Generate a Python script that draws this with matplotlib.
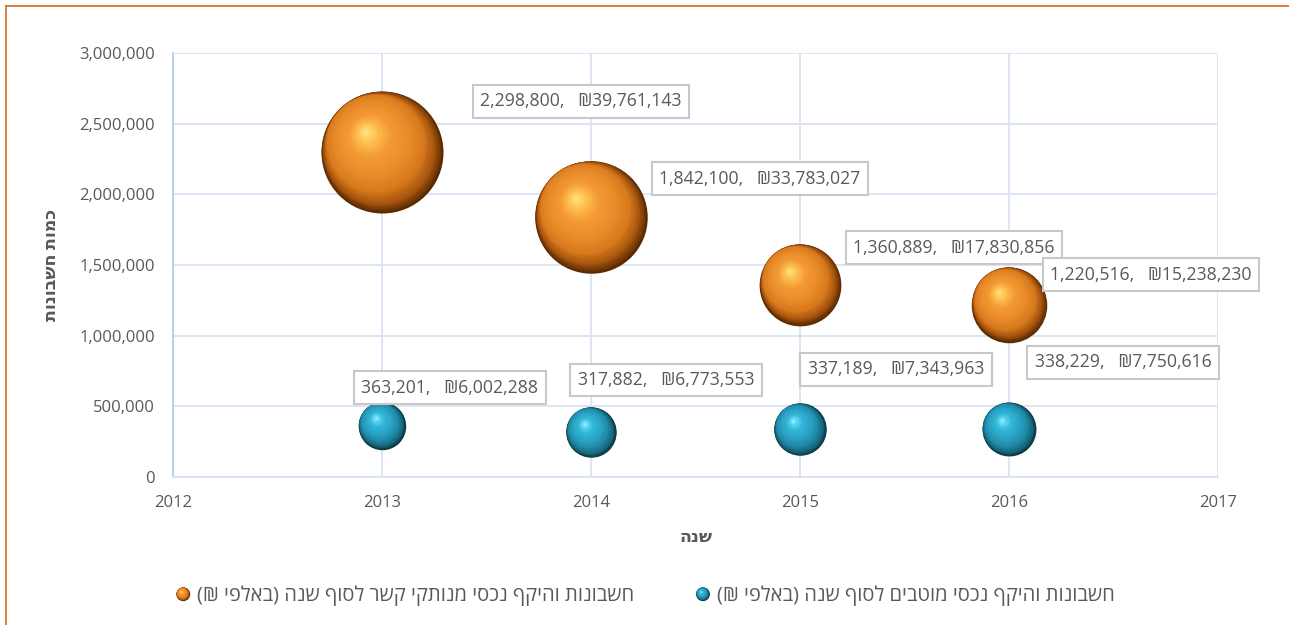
import numpy as np
import matplotlib
matplotlib.use("Agg")
import matplotlib.pyplot as plt
from matplotlib.colors import LinearSegmentedColormap
from matplotlib.transforms import ScaledTranslation
from matplotlib.legend_handler import HandlerBase
from matplotlib.patches import Circle
from matplotlib.lines import Line2D
from matplotlib.ticker import FuncFormatter, MultipleLocator

plt.rcParams['font.family'] = ['Open Sans', 'DejaVu Sans']

# ---------------- data ----------------
years = [2013, 2014, 2015, 2016]
disconnected_accounts = [2298800, 1842100, 1360889, 1220516]
disconnected_assets = [39761143, 33783027, 17830856, 15238230]
beneficiary_accounts = [363201, 317882, 337189, 338229]
beneficiary_assets = [6002288, 6773553, 7343963, 7750616]

series_disconnected = "חשבונות והיקף נכסי מנותקי קשר לסוף שנה (באלפי ₪)"
series_beneficiary = "חשבונות והיקף נכסי מוטבים לסוף שנה (באלפי ₪)"
x_title = "שנה"
y_title = "כמות חשבונות"


def vis(s):
    """Hebrew logical order -> visual order for LTR renderer."""
    r = s[::-1]
    return r.translate(str.maketrans({'(': ')', ')': '('}))


# ---------------- figure ----------------
W, H, DPI = 1289, 625, 100
fig = plt.figure(figsize=(W / DPI, H / DPI), dpi=DPI)
fig.patch.set_facecolor('white')
ax = fig.add_axes([173 / W, 1 - 477 / H, (1218 - 173) / W, (477 - 53) / H])

ax.set_xlim(2012, 2017)
ax.set_ylim(0, 3000000)
ax.xaxis.set_major_locator(MultipleLocator(1))
ax.yaxis.set_major_locator(MultipleLocator(500000))
ax.yaxis.set_major_formatter(FuncFormatter(lambda v, p: f"{int(v):,}"))
ax.xaxis.set_major_formatter(FuncFormatter(lambda v, p: f"{int(v)}"))
grid_c = '#D9E3F2'
ax.grid(True, color=grid_c, lw=1.3, zorder=0)
ax.set_axisbelow(True)
for side in ['top', 'right']:
    ax.spines[side].set_visible(False)
ax.spines['left'].set_color('#B4C7E7')
ax.spines['bottom'].set_color('#D9E3F2')
ax.spines['left'].set_linewidth(1.2)
ax.spines['bottom'].set_linewidth(1.3)
ax.tick_params(length=0, labelsize=12, colors='#595959')
ax.tick_params(axis='x', pad=13)
ax.tick_params(axis='y', pad=13)

ax.set_xlabel(vis(x_title), fontsize=12.5, fontweight='bold', color='#595959', labelpad=12)
ax.set_ylabel(vis(y_title), fontsize=12.5, fontweight='bold', color='#595959', labelpad=14)

orange_cmap = LinearSegmentedColormap.from_list('o', [
    (0.0, '#5A2A00'), (0.08, '#A4520E'), (0.2, '#D87A1C'), (0.38, '#E98A2A'),
    (0.65, '#F49B34'), (0.85, '#FFC352'), (1.0, '#FFE88A')])
blue_cmap = LinearSegmentedColormap.from_list('b', [
    (0.0, '#0A3442'), (0.08, '#166679'), (0.22, '#208CAA'), (0.42, '#2AA2C4'),
    (0.7, '#34B7DA'), (0.88, '#62D8F5'), (1.0, '#A8F2FF')])

max_size = max(disconnected_assets)
DMAX = 122 * 72 / DPI  # points


def shift(t):
    # highlight drift toward upper-left, fast at first so the dark rim sits lower-right
    return 0.92 * t if t < 0.25 else 0.23 + 0.28 * (t - 0.25)


def draw_sphere(x, y, size_val, cmap, z=3):
    D = DMAX * np.sqrt(size_val / max_size)
    R = D / 2
    N = 50
    for k in range(N):
        t = k / N
        d = D * (1 - t)
        m = shift(t) * R
        dx = -0.62 * m / 72
        dy = 0.78 * m / 72
        tr = ax.transData + ScaledTranslation(dx, dy, fig.dpi_scale_trans)
        ax.scatter([x], [y], s=[d ** 2], color=cmap(t), lw=0,
                   transform=tr, zorder=z + k * 0.001)


for xv, yv, sv in zip(years, disconnected_accounts, disconnected_assets):
    draw_sphere(xv, yv, sv, orange_cmap)
for xv, yv, sv in zip(years, beneficiary_accounts, beneficiary_assets):
    draw_sphere(xv, yv, sv, blue_cmap)

# data labels (offsets in points)
off_dis = [(199, 51), (169, 38), (154, 37), (142, 30)]
off_ben = [(68, 38), (75, 52), (96, 60), (114, 67)]
box = dict(boxstyle='square,pad=0.42', fc='white', ec='#C8C8C8', lw=1.5)
for xs, ys, ss, offs in [(years, disconnected_accounts, disconnected_assets, off_dis),
                         (years, beneficiary_accounts, beneficiary_assets, off_ben)]:
    for xv, yv, sv, (ox, oy) in zip(xs, ys, ss, offs):
        ax.annotate(f"{yv:,},   ₪{sv:,}", xy=(xv, yv),
                    xytext=(ox * 72 / DPI, oy * 72 / DPI), textcoords='offset points',
                    ha='center', va='center', fontsize=12.7, color='#595959',
                    bbox=box, zorder=10)


# legend with small spheres
class SphereHandler(HandlerBase):
    def __init__(self, cmap):
        super().__init__()
        self.cmap = cmap

    def create_artists(self, legend, orig_handle, xdescent, ydescent, width,
                       height, fontsize, trans):
        cx = width / 2 - xdescent
        cy = height / 2 - ydescent
        R = 5.0
        arts = []
        N = 14
        for k in range(N):
            t = k / N
            m = shift(t) * R
            c = Circle((cx - 0.62 * m, cy + 0.78 * m), R * (1 - t),
                       fc=self.cmap(t), ec='none', transform=trans)
            arts.append(c)
        return arts


h1 = Line2D([], [], color='#E8862A')
h2 = Line2D([], [], color='#2AA2C4')
fig.legend([h1, h2], [vis(series_disconnected), vis(series_beneficiary)],
           handler_map={h1: SphereHandler(orange_cmap), h2: SphereHandler(blue_cmap)},
           loc='center', bbox_to_anchor=(645 / W, 1 - 596 / H), ncol=2,
           frameon=False, fontsize=14.5, labelcolor='#595959',
           handlelength=0.8, handletextpad=0.3, columnspacing=3.0)

# orange frame (top and left edges visible)
fig.add_artist(Line2D([6 / W, 6 / W], [0, 1 - 6 / H], transform=fig.transFigure,
                      color='#D2691E', lw=1.2))
fig.add_artist(Line2D([6 / W, 1], [1 - 6 / H, 1 - 6 / H], transform=fig.transFigure,
                      color='#D2691E', lw=1.2))

fig.savefig('out.png', dpi=DPI, facecolor='white')
